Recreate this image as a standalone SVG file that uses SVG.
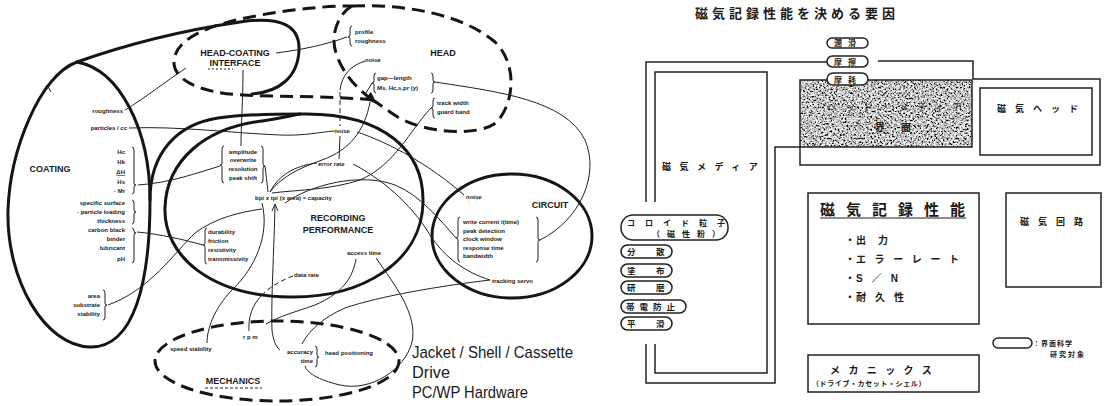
<svg xmlns="http://www.w3.org/2000/svg" width="1107" height="406" viewBox="0 0 1107 406">
<style>
.thick{fill:none;stroke:#151515;stroke-width:3;stroke-linecap:round}
.dash{fill:none;stroke:#151515;stroke-width:3;stroke-dasharray:13 7}
.thin{fill:none;stroke:#222;stroke-width:1}
.thind{fill:none;stroke:#222;stroke-width:1;stroke-dasharray:5 3}
.br{fill:none;stroke:#222;stroke-width:1}
.s{font-family:"Liberation Sans",Arial,sans-serif;font-size:6px;font-weight:bold;fill:#1a1a1a}
.b{font-family:"Liberation Sans",Arial,sans-serif;font-size:9px;font-weight:bold;fill:#1a1a1a;text-anchor:middle}
.hand{font-family:"Liberation Sans",Arial,sans-serif;font-size:17px;fill:#1a1a1a}
.jp{font-family:"Liberation Sans","Noto Sans CJK JP",sans-serif;font-weight:bold;fill:#1a1a1a}
.box{fill:none;stroke:#222;stroke-width:1.5}
.pill{fill:#fff;stroke:#222;stroke-width:1.5}
</style>
<defs>
<filter id="grain" x="0" y="0" width="100%" height="100%">
<feTurbulence type="fractalNoise" baseFrequency="0.55" numOctaves="3" seed="7" result="n"/>
<feColorMatrix in="n" type="matrix" values="2.8 0 0 0 -0.85  2.8 0 0 0 -0.85  2.8 0 0 0 -0.85  0 0 0 0 1"/>
</filter>
</defs>
<rect width="1107" height="406" fill="#fff"/>

<!-- ================= LEFT DIAGRAM ================= -->
<g id="coating">
<path class="thick" d="M77,62 C40,75 10,150 8,210 C6,280 45,346 90,347 C135,348 150,280 150,200 C150,130 120,70 77,62 Z"/>
<path class="thin" stroke-width="1.5" d="M42,93 L47,85 L51,92"/>
<text class="b" x="50" y="172">COATING</text>
<g class="s" text-anchor="end">
<text x="123" y="113">roughness</text>
<text x="127" y="130">particles / cc</text>
<text x="125" y="154">Hc</text>
<text x="125" y="164">Hk</text>
<text x="125" y="174" text-decoration="underline">ΔH</text>
<text x="125" y="184">Hs</text>
<text x="125" y="193">· Mr</text>
<text x="125" y="205">specific surface</text>
<text x="125" y="214">· particle loading</text>
<text x="125" y="223">thickness</text>
<text x="125" y="232">carbon black</text>
<text x="125" y="241">binder</text>
<text x="125" y="250">lubricant</text>
<text x="125" y="261">pH</text>
<text x="100" y="298">area</text>
<text x="100" y="307">substrate</text>
<text x="100" y="316">stability</text>
</g>
<path class="br" d="M132,147 Q134,147 134,150 L134,183 Q134,185 136,185 Q134,185 134,187 L134,191 Q134,194 132,194"/>
<path class="br" d="M132,200 Q134,200 134,203 L134,210 Q134,212 136,212 Q134,212 134,214 L134,221 Q134,224 132,224"/>
<path class="br" d="M132,228 Q134,228 134,231 Q134,233 136,233 Q134,233 134,235 L134,260 Q134,263 132,263"/>
<path class="br" d="M103,290 Q105,290 105,293 L105,303 Q105,305 107,305 Q105,305 105,307 L105,317 Q105,320 103,320"/>
</g>

<g id="head-coating-interface">
<path class="thick" d="M77,62 C125,45 185,30 240,22 C280,16 300,25 299,50 C298,78 278,92 252,94"/>
<path class="dash" d="M373,100 C335,96 285,97 243,95 C200,93 172,80 174,60 C176,42 198,30 232,21 C270,12 315,6 352,6"/>
<text class="b" x="235" y="56">HEAD-COATING</text>
<text class="b" x="235" y="66">INTERFACE</text>
<path class="thin" stroke-dasharray="2 2" d="M208,69 L233,69"/>
</g>

<g id="head">
<path class="dash" d="M352,6 C405,4 462,14 495,42 C516,62 516,100 497,122 C478,138 420,133 393,114 L373,100"/>
<path class="dash" d="M352,6 C338,14 330,35 336,53 C342,72 356,88 370,98"/>
<polygon points="377,104 365,99 371,92" fill="#151515"/>
<text class="b" x="443" y="56">HEAD</text>
<g class="s">
<text x="355" y="34">profile</text>
<text x="355" y="43">roughness</text>
<text x="365" y="62">noise</text>
<text x="377" y="80">gap—length</text>
<text x="377" y="90">Ms, Hc,s,pr (y)</text>
<text x="437" y="105">track width</text>
<text x="437" y="114">guard band</text>
</g>
<path class="br" d="M352,26 Q350,26 350,29 L350,35 Q350,37 348,37 Q350,37 350,39 L350,43 Q350,46 352,46"/>
<path class="br" d="M376,73 Q374,73 374,76 L374,81 Q374,83 372,83 Q374,83 374,85 L374,90 Q374,93 376,93"/>
<path class="br" d="M431,73 Q433,73 433,76 L433,80 Q433,82 435,82 Q433,82 433,84 L433,90 Q433,93 431,93"/>
<path class="br" d="M435,98 Q433,98 433,101 L433,106 Q433,108 431,108 Q433,108 433,110 L433,115 Q433,118 435,118"/>
</g>

<g id="recording-performance">
<path class="thick" d="M150,200 C150,152 178,124 218,118 C245,114 275,114 300,114"/>
<path class="thick" d="M300,114 C385,112 424,152 423,202 C422,262 362,298 290,297 C212,296 163,257 165,207 C167,160 205,128 262,121 C278,119 290,116 300,114"/>
<text class="b" font-size="10" x="338" y="221">RECORDING</text>
<text class="b" font-size="10" x="338" y="233">PERFORMANCE</text>
<g class="s">
<text x="243" y="154" text-anchor="middle">amplitude</text>
<text x="243" y="162" text-anchor="middle">overwrite</text>
<text x="243" y="171" text-anchor="middle">resolution</text>
<text x="243" y="180" text-anchor="middle">peak shift</text>
<text x="208" y="234">durability</text>
<text x="208" y="243">friction</text>
<text x="208" y="252">resistivity</text>
<text x="208" y="261">transmissivity</text>
<text x="342" y="133" text-anchor="middle">noise</text>
<text x="318" y="166">error rate</text>
<text x="255" y="200">bpi x tpi (x area) = capacity</text>
<text x="347" y="255">access time</text>
<text x="294" y="277">data rate</text>
</g>
<path class="br" d="M224,146 Q222,146 222,149 L222,163 Q222,165 220,165 Q222,165 222,167 L222,180 Q222,183 224,183"/>
<path class="br" d="M261,146 Q263,146 263,149 L263,164 Q263,166 265,166 Q263,166 263,168 L263,180 Q263,183 261,183"/>
<path class="br" d="M207,228 Q205,228 205,231 L205,243 Q205,245 203,245 Q205,245 205,247 L205,261 Q205,264 207,264"/>
</g>

<g id="circuit">
<ellipse class="thick" cx="512" cy="236" rx="80" ry="62"/>
<text class="b" font-size="9.5" x="550" y="208">CIRCUIT</text>
<g class="s">
<text x="466" y="199">noise</text>
<text x="463" y="224">write current i(time)</text>
<text x="463" y="233">peak detection</text>
<text x="463" y="241">clock window</text>
<text x="463" y="250">response time</text>
<text x="463" y="258">bandwidth</text>
<text x="492" y="283">tracking servo</text>
</g>
<path class="br" d="M460,217 Q458,217 458,220 L458,236 Q458,238 456,238 Q458,238 458,240 L458,259 Q458,262 460,262"/>
<path class="br" d="M536,217 Q538,217 538,220 L538,238 Q538,240 540,240 Q538,240 538,242 L538,259 Q538,262 536,262"/>
</g>

<g id="mechanics">
<ellipse class="dash" stroke-width="3.5" cx="277" cy="361" rx="122" ry="40"/>
<text class="b" font-size="8" x="233" y="384">MECHANICS</text>
<path class="thin" stroke-dasharray="3 2" d="M205,388 L262,388"/>
<g class="s">
<text x="170" y="351">speed stability</text>
<text x="243" y="339">r p m</text>
<text x="313" y="354" text-anchor="end">accuracy</text>
<text x="313" y="363" text-anchor="end">time</text>
<text x="325" y="355">head positioning</text>
</g>
<path class="br" d="M315,346 Q317,346 317,349 L317,355 Q317,357 319,357 Q317,357 317,359 L317,364 Q317,367 315,367"/>
</g>

<g id="hardware-note">
<text class="hand" x="412" y="358" textLength="161" lengthAdjust="spacingAndGlyphs">Jacket / Shell / Cassette</text>
<text class="hand" x="412" y="378" textLength="38" lengthAdjust="spacingAndGlyphs">Drive</text>
<text class="hand" x="412" y="398" textLength="116" lengthAdjust="spacingAndGlyphs">PC/WP Hardware</text>
</g>

<g id="connectors">
<path class="thin" d="M276,53 C300,50 325,45 347,37"/>
<path class="thin" d="M125,110 C145,98 165,82 186,68"/>
<path class="thin" d="M243,70 C243,100 241,125 241,146"/>
<path class="thin" d="M129,128 C180,126 230,133 280,135 C305,136 320,132 334,131"/>
<path class="thin" d="M138,185 C170,183 200,172 220,166"/>
<path class="thin" d="M137,232 C160,234 185,240 203,245"/>
<path class="thin" d="M108,305 C150,290 175,252 195,233 C215,218 240,212 262,209"/>
<path class="thin" d="M365,61 C350,66 342,75 340,90"/>
<path class="thind" d="M340,92 L340,126"/>
<path class="thin" d="M340,136 L339,159"/>
<path class="thin" d="M357,132 C390,143 430,165 464,195"/>
<path class="thin" d="M265,166 C266,175 267,182 268,192"/>
<path class="thin" d="M317,163 C300,165 280,172 270,192"/>
<path class="thin" d="M370,102 C365,130 350,150 322,160 C300,168 282,176 270,192"/>
<path class="thin" d="M431,108 C410,130 395,165 360,180 C330,190 295,190 272,193"/>
<path class="thin" d="M372,83 L366,93"/>
<path class="thin" d="M435,82 C500,92 565,100 585,140 C600,175 580,220 540,240"/>
<path class="thin" d="M285,203 C310,185 360,172 395,185 C420,195 440,220 456,238"/>
<path class="thin" d="M353,164 C380,178 410,202 430,235 C445,258 465,272 490,280"/>
<path class="thin" d="M262,203 C270,235 255,268 232,290 C213,310 207,330 207,343"/>
<path class="thin" d="M275,205 C274,250 271,300 272,330 C273,340 276,347 280,350"/>
<path class="thin" stroke-width="1.3" d="M272,211 L275,204 L278,211"/>
<path class="thind" d="M293,276 C282,280 268,288 262,295"/>
<path class="thin" d="M262,295 C252,305 248,318 249,331"/>
<path class="thin" d="M356,259 C352,282 338,295 315,305 C295,312 280,316 266,324"/>
<path class="thin" d="M376,258 C395,285 418,315 412,342 C405,370 370,392 340,385 C318,380 306,372 305,366"/>
<path class="thin" d="M490,280 C440,286 380,296 345,308 C322,318 308,332 302,344"/>
</g>

<!-- ================= RIGHT DIAGRAM ================= -->
<g id="title">
<text class="jp" x="695" y="18" font-size="13" font-weight="500" letter-spacing="4">磁気記録性能を決める要因</text>
</g>

<g id="media">
<path class="box" d="M827,62 L646,62 L646,202 M646,344 L646,383 L775,383 L775,147 L800,147"/>
<path class="box" d="M655,202 L655,72 L767,72 L767,373 L655,373 L655,344"/>
<text class="jp" x="662" y="170" font-size="9" letter-spacing="8.5">磁気メディア</text>
</g>

<g id="interface-box">
<rect x="800" y="80" width="172" height="67" fill="#888" filter="url(#grain)"/>
<rect x="800" y="80" width="172" height="67" fill="none" stroke="#222" stroke-width="1.5"/>
<text class="jp" x="827" y="111" font-size="10" letter-spacing="8" fill="#333" opacity="0.6">ヘッド・メディア</text>
<text class="jp" x="875" y="131" font-size="10" letter-spacing="16" fill="#222">界面</text>
<path class="box" d="M878,61 L973,61 L973,79 L1100,79 L1100,165 L800,165 L800,147"/>
</g>

<g id="pills-top">
<rect class="pill" x="827" y="38" width="41" height="10" rx="5"/>
<text class="jp" x="834" y="46" font-size="8" letter-spacing="6">潤滑</text>
<rect class="pill" x="827" y="56" width="41" height="11" rx="5.5"/>
<text class="jp" x="834" y="64.5" font-size="8" letter-spacing="6">摩擦</text>
<rect class="pill" x="827" y="73" width="41" height="12" rx="6"/>
<text class="jp" x="834" y="82.5" font-size="8" letter-spacing="6">摩耗</text>
</g>

<g id="head-box">
<rect class="box" x="980" y="88" width="112" height="67"/>
<text class="jp" x="997" y="112" font-size="9" letter-spacing="9">磁気ヘッド</text>
</g>

<g id="pills-media">
<rect class="pill" x="621" y="215" width="107" height="25" rx="12"/>
<text class="jp" x="627" y="226" font-size="8" letter-spacing="10">コロイド粒子</text>
<text class="jp" x="652" y="237" font-size="8" letter-spacing="7">（磁性粉）</text>
<rect class="pill" x="621" y="245" width="51" height="13" rx="6.5"/>
<text class="jp" x="627 656" y="254.5" font-size="8.5">分散</text>
<rect class="pill" x="621" y="264" width="51" height="13" rx="6.5"/>
<text class="jp" x="627 656" y="273.5" font-size="8.5">塗布</text>
<rect class="pill" x="621" y="281" width="51" height="13" rx="6.5"/>
<text class="jp" x="627 656" y="290.5" font-size="8.5">研磨</text>
<rect class="pill" x="621" y="300" width="65" height="13" rx="6.5"/>
<text class="jp" x="626" y="309.5" font-size="8.5" letter-spacing="5">帯電防止</text>
<rect class="pill" x="621" y="317" width="51" height="13" rx="6.5"/>
<text class="jp" x="627 656" y="326.5" font-size="8.5">平滑</text>
</g>

<g id="performance-box">
<rect class="box" x="808" y="193" width="171" height="131"/>
<text class="jp" x="820" y="215" font-size="15" letter-spacing="11">磁気記録性能</text>
<path d="M820,218 L966,218" stroke="#222" stroke-width="1.2"/>
<g class="jp" font-size="10">
<text x="845" y="244">・</text><text x="856" y="244" letter-spacing="12">出力</text>
<text x="845" y="263">・</text><text x="856" y="263" letter-spacing="8.6">エラーレート</text>
<text x="845" y="282">・</text><text x="856" y="282" letter-spacing="9">S／N</text>
<text x="845" y="301">・</text><text x="856" y="301" letter-spacing="9">耐久性</text>
</g>
</g>

<g id="circuit-box">
<rect class="box" x="1006" y="193" width="95" height="94"/>
<text class="jp" x="1020" y="225" font-size="9" letter-spacing="9">磁気回路</text>
</g>

<g id="mechanics-box">
<rect class="box" x="808" y="355" width="171" height="37"/>
<text class="jp" x="830" y="374" font-size="10" letter-spacing="8.4">メカニックス</text>
<text class="jp" x="812" y="386" font-size="7" letter-spacing="0.6">（ドライブ・カセット・シェル）</text>
</g>

<g id="legend">
<rect class="pill" x="993" y="338" width="39" height="10" rx="5"/>
<text class="jp" x="1033" y="346" font-size="7" letter-spacing="1">：界面科学</text>
<text class="jp" x="1050" y="357" font-size="7" letter-spacing="2">研究対象</text>
</g>
</svg>
